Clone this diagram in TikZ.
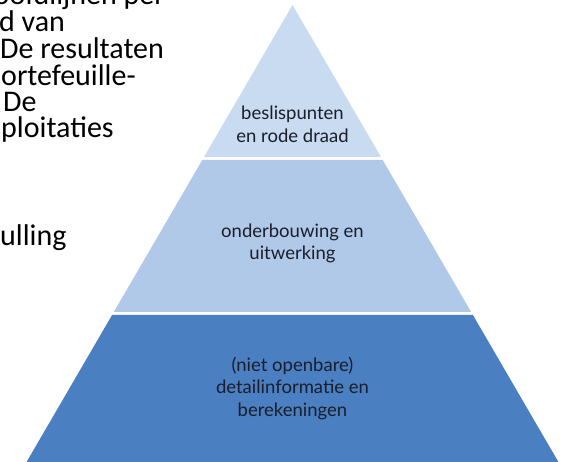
\documentclass[tikz,border=0pt]{standalone}
\usepackage{fontspec}
\setmainfont{Carlito}
\newfontfamily\pyrfont{Lato}
\definecolor{bandtop}{HTML}{C8DBF1}
\definecolor{bandmid}{HTML}{B1C9E8}
\definecolor{bandbot}{HTML}{4A7FC1}
\definecolor{pyrtext}{HTML}{1A1E2C}
\tikzset{
  lefttext/.style={inner sep=0pt, text=black, font=\fontsize{30}{30}\selectfont},
  pyrlabel/.style={align=center, inner sep=0pt, text=pyrtext, font=\pyrfont\fontsize{18.5}{22.5}\selectfont},
}
\begin{document}
\begin{tikzpicture}[x=1pt,y=-1pt]
\useasboundingbox (0,0) rectangle (568,462);
\clip (0,0) rectangle (568,462);
% left text fragments
\node[lefttext, anchor=base east] (l1) at (165,5) {oofdlijnen per};
\node[lefttext, anchor=base west] (l2) at (-1,32) {d van};
\node[lefttext, anchor=base west] (l3) at (0,59) {De resultaten};
\node[lefttext, anchor=base west] (l4) at (1,86) {ortefeuille-};
\node[lefttext, anchor=base west] (l5) at (3,112) {De};
\node[lefttext, anchor=base west] (l6) at (1,138) {ploitaties};
\node[lefttext, anchor=base west] (l7) at (0,246) {ulling};
% pyramid bands
\fill[bandtop] (292.5,5) -- (381.0,157) -- (204.0,157) -- cycle;
\fill[bandmid] (202.3,160) -- (382.7,160) -- (471.2,312) -- (113.8,312) -- cycle;
\fill[bandbot] (112.1,315) -- (472.9,315) -- (563.1,470) -- (21.9,470) -- cycle;
% labels
\node[pyrlabel] (top) at (292.5,124.5) {beslispunten\\en rode draad};
\node[pyrlabel] (mid) at (292.5,243.3) {onderbouwing en\\uitwerking};
\node[pyrlabel] (bot) at (292.5,388.5) {(niet openbare)\\detailinformatie en\\berekeningen};
\end{tikzpicture}
\end{document}
